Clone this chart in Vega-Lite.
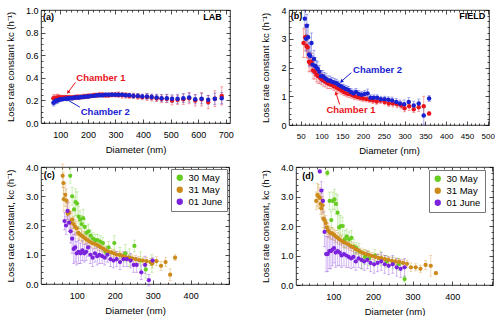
{
"$schema": "https://vega.github.io/schema/vega-lite/v6.json",
"padding": {"left": 5, "top": 5, "right": 0, "bottom": 0},
"spacing": 7,
"resolve": {"scale": {"color": "independent", "x": "independent", "y": "independent"}, "legend": {"color": "independent"}},
"config": {
 "font": "Liberation Sans",
 "view": {"stroke": "#000", "strokeWidth": 0.8},
 "axis": {"domain": false, "grid": false, "labelFont": "Liberation Sans", "titleFont": "Liberation Sans", "labelFontSize": 9, "titleFontSize": 9.5, "titleFontWeight": "normal", "labelColor": "#000", "titleColor": "#000", "tickColor": "#000", "tickWidth": 0.7, "labelOverlap": false, "labelFlush": false},
 "legend": {"orient": "top-right", "offset": 2, "strokeColor": "#777", "fillColor": "#fff", "padding": 4, "labelFont": "Liberation Sans", "labelFontSize": 9.5, "symbolType": "circle", "symbolSize": 40, "rowPadding": 1, "symbolOpacity": 1}
},
"vconcat": [
{"hconcat": [
 {
  "width": 189, "height": 113,
  "data": {"values": [
{"d":75,"k":0.22,"e":0.03,"s":"C1"},{"d":80,"k":0.215,"e":0.03,"s":"C1"},{"d":85,"k":0.22,"e":0.03,"s":"C1"},{"d":90,"k":0.225,"e":0.03,"s":"C1"},{"d":95,"k":0.225,"e":0.025,"s":"C1"},{"d":100,"k":0.225,"e":0.02,"s":"C1"},{"d":107,"k":0.225,"e":0.02,"s":"C1"},{"d":114,"k":0.225,"e":0.02,"s":"C1"},{"d":121,"k":0.225,"e":0.02,"s":"C1"},{"d":128,"k":0.225,"e":0.02,"s":"C1"},{"d":135,"k":0.225,"e":0.02,"s":"C1"},{"d":143,"k":0.225,"e":0.02,"s":"C1"},{"d":151,"k":0.225,"e":0.02,"s":"C1"},{"d":159,"k":0.23,"e":0.02,"s":"C1"},{"d":167,"k":0.23,"e":0.02,"s":"C1"},{"d":175,"k":0.23,"e":0.02,"s":"C1"},{"d":184,"k":0.235,"e":0.02,"s":"C1"},{"d":193,"k":0.235,"e":0.02,"s":"C1"},{"d":202,"k":0.24,"e":0.02,"s":"C1"},{"d":212,"k":0.24,"e":0.02,"s":"C1"},{"d":222,"k":0.245,"e":0.02,"s":"C1"},{"d":232,"k":0.245,"e":0.02,"s":"C1"},{"d":242,"k":0.25,"e":0.02,"s":"C1"},{"d":253,"k":0.25,"e":0.02,"s":"C1"},{"d":264,"k":0.245,"e":0.02,"s":"C1"},{"d":275,"k":0.245,"e":0.02,"s":"C1"},{"d":287,"k":0.25,"e":0.02,"s":"C1"},{"d":299,"k":0.25,"e":0.02,"s":"C1"},{"d":311,"k":0.25,"e":0.025,"s":"C1"},{"d":324,"k":0.245,"e":0.025,"s":"C1"},{"d":337,"k":0.245,"e":0.025,"s":"C1"},{"d":350,"k":0.24,"e":0.025,"s":"C1"},{"d":365,"k":0.24,"e":0.025,"s":"C1"},{"d":381,"k":0.235,"e":0.025,"s":"C1"},{"d":397,"k":0.23,"e":0.025,"s":"C1"},{"d":414,"k":0.23,"e":0.03,"s":"C1"},{"d":431,"k":0.225,"e":0.03,"s":"C1"},{"d":449,"k":0.22,"e":0.03,"s":"C1"},{"d":467,"k":0.215,"e":0.035,"s":"C1"},{"d":486,"k":0.215,"e":0.035,"s":"C1"},{"d":505,"k":0.2,"e":0.04,"s":"C1"},{"d":525,"k":0.205,"e":0.04,"s":"C1"},{"d":546,"k":0.21,"e":0.045,"s":"C1"},{"d":567,"k":0.22,"e":0.05,"s":"C1"},{"d":589,"k":0.2,"e":0.05,"s":"C1"},{"d":612,"k":0.21,"e":0.06,"s":"C1"},{"d":636,"k":0.185,"e":0.06,"s":"C1"},{"d":660,"k":0.215,"e":0.07,"s":"C1"},{"d":685,"k":0.24,"e":0.08,"s":"C1"},
{"d":75,"k":0.18,"e":0.03,"s":"C2"},{"d":80,"k":0.19,"e":0.03,"s":"C2"},{"d":85,"k":0.2,"e":0.03,"s":"C2"},{"d":90,"k":0.2,"e":0.025,"s":"C2"},{"d":95,"k":0.205,"e":0.02,"s":"C2"},{"d":100,"k":0.21,"e":0.02,"s":"C2"},{"d":107,"k":0.21,"e":0.015,"s":"C2"},{"d":114,"k":0.215,"e":0.015,"s":"C2"},{"d":121,"k":0.215,"e":0.015,"s":"C2"},{"d":128,"k":0.22,"e":0.015,"s":"C2"},{"d":135,"k":0.22,"e":0.015,"s":"C2"},{"d":143,"k":0.22,"e":0.015,"s":"C2"},{"d":151,"k":0.225,"e":0.015,"s":"C2"},{"d":159,"k":0.225,"e":0.015,"s":"C2"},{"d":167,"k":0.225,"e":0.015,"s":"C2"},{"d":175,"k":0.23,"e":0.015,"s":"C2"},{"d":184,"k":0.23,"e":0.015,"s":"C2"},{"d":193,"k":0.235,"e":0.015,"s":"C2"},{"d":202,"k":0.235,"e":0.015,"s":"C2"},{"d":212,"k":0.24,"e":0.015,"s":"C2"},{"d":222,"k":0.24,"e":0.015,"s":"C2"},{"d":232,"k":0.245,"e":0.015,"s":"C2"},{"d":242,"k":0.245,"e":0.015,"s":"C2"},{"d":253,"k":0.245,"e":0.015,"s":"C2"},{"d":264,"k":0.25,"e":0.015,"s":"C2"},{"d":275,"k":0.25,"e":0.015,"s":"C2"},{"d":287,"k":0.25,"e":0.015,"s":"C2"},{"d":299,"k":0.25,"e":0.015,"s":"C2"},{"d":311,"k":0.25,"e":0.015,"s":"C2"},{"d":324,"k":0.25,"e":0.015,"s":"C2"},{"d":337,"k":0.245,"e":0.015,"s":"C2"},{"d":350,"k":0.245,"e":0.015,"s":"C2"},{"d":365,"k":0.24,"e":0.02,"s":"C2"},{"d":381,"k":0.24,"e":0.02,"s":"C2"},{"d":397,"k":0.235,"e":0.02,"s":"C2"},{"d":414,"k":0.235,"e":0.025,"s":"C2"},{"d":431,"k":0.23,"e":0.025,"s":"C2"},{"d":449,"k":0.225,"e":0.03,"s":"C2"},{"d":467,"k":0.22,"e":0.03,"s":"C2"},{"d":486,"k":0.22,"e":0.035,"s":"C2"},{"d":505,"k":0.215,"e":0.035,"s":"C2"},{"d":525,"k":0.215,"e":0.04,"s":"C2"},{"d":546,"k":0.22,"e":0.04,"s":"C2"},{"d":567,"k":0.225,"e":0.04,"s":"C2"},{"d":589,"k":0.21,"e":0.04,"s":"C2"},{"d":612,"k":0.215,"e":0.045,"s":"C2"},{"d":636,"k":0.205,"e":0.04,"s":"C2"},{"d":660,"k":0.215,"e":0.05,"s":"C2"},{"d":685,"k":0.22,"e":0.05,"s":"C2"}
  ]},
  "layer": [
   {"mark": {"type": "errorbar", "ticks": true, "size": 3, "thickness": 0.8, "opacity": 0.45},
    "encoding": {
     "x": {"field": "d", "type": "quantitative", "scale": {"domain": [30, 715], "nice": false, "zero": false},
       "axis": {"orient": "top", "labelOverlap": false, "values": [40,60,80,100,120,140,160,180,200,220,240,260,280,300,320,340,360,380,400,420,440,460,480,500,520,540,560,580,600,620,640,660,680,700], "labels": false, "title": null, "tickSize": {"condition": {"test": "datum.value % 100 === 0", "value": -4}, "value": -2}}},
     "y": {"field": "k", "type": "quantitative", "scale": {"domain": [0, 1], "nice": false, "zero": false},
       "axis": {"orient": "right", "labelOverlap": false, "values": [0,0.05,0.1,0.15,0.2,0.25,0.3,0.35,0.4,0.45,0.5,0.55,0.6,0.65,0.7,0.75,0.8,0.85,0.9,0.95,1], "labels": false, "title": null, "tickSize": {"condition": {"test": "abs(datum.value*5-round(datum.value*5))<0.001", "value": -4}, "value": -2}}},
     "yError": {"field": "e"},
     "color": {"field": "s", "type": "nominal", "scale": {"domain": ["C1", "C2"], "range": ["#e8141c", "#1a22d0"]}, "legend": null}
    }},
   {"mark": {"type": "circle", "size": 20, "opacity": 1},
    "encoding": {
     "x": {"field": "d", "type": "quantitative", "scale": {"domain": [30, 715], "nice": false, "zero": false},
       "axis": {"orient": "bottom", "labelOverlap": false, "values": [40,60,80,100,120,140,160,180,200,220,240,260,280,300,320,340,360,380,400,420,440,460,480,500,520,540,560,580,600,620,640,660,680,700], "title": "Diameter (nm)", "labelExpr": "datum.value % 100 === 0 ? datum.label : ''", "tickSize": {"condition": {"test": "datum.value % 100 === 0", "value": -4}, "value": -2}, "labelPadding": 11, "titlePadding": 3}},
     "y": {"field": "k", "type": "quantitative", "scale": {"domain": [0, 1], "nice": false, "zero": false},
       "axis": {"orient": "left", "labelOverlap": false, "format": ".1f", "values": [0,0.05,0.1,0.15,0.2,0.25,0.3,0.35,0.4,0.45,0.5,0.55,0.6,0.65,0.7,0.75,0.8,0.85,0.9,0.95,1], "title": "Loss rate constant kᴄ (h⁻¹)", "labelExpr": "abs(datum.value*5-round(datum.value*5))<0.001 ? datum.label : ''", "tickSize": {"condition": {"test": "abs(datum.value*5-round(datum.value*5))<0.001", "value": -4}, "value": -2}, "labelPadding": 7, "titlePadding": 10}},
     "color": {"field": "s", "type": "nominal", "legend": null}
    }},
   {"data": {"values": [{"d":155,"k":0.36,"d2":128,"k2":0.27,"s":"C1"},{"d":171,"k":0.14,"d2":122,"k2":0.21,"s":"C2"}]},
    "mark": {"type": "rule", "strokeWidth": 1},
    "encoding": {"x": {"field": "d", "type": "quantitative", "axis": null}, "y": {"field": "k", "type": "quantitative", "axis": null}, "x2": {"field": "d2"}, "y2": {"field": "k2"}, "color": {"field": "s", "type": "nominal", "legend": null}}},
   {"data": {"values": [{"d":128,"k":0.27}]}, "mark": {"type": "point", "shape": "triangle-up", "filled": true, "size": 16, "angle": 218, "color": "#e8141c", "opacity": 1},
    "encoding": {"x": {"field": "d", "type": "quantitative", "axis": null}, "y": {"field": "k", "type": "quantitative", "axis": null}}},
   {"data": {"values": [{"d":122,"k":0.21}]}, "mark": {"type": "point", "shape": "triangle-up", "filled": true, "size": 16, "angle": 299, "color": "#1a22d0", "opacity": 1},
    "encoding": {"x": {"field": "d", "type": "quantitative", "axis": null}, "y": {"field": "k", "type": "quantitative", "axis": null}}},
   {"data": {"values": [{"d":158,"k":0.4,"t":"Chamber 1","s":"C1"},{"d":174,"k":0.1,"t":"Chamber 2","s":"C2"}]},
    "mark": {"type": "text", "align": "left", "baseline": "middle", "fontWeight": "bold", "fontSize": 9.5},
    "encoding": {"x": {"field": "d", "type": "quantitative", "axis": null}, "y": {"field": "k", "type": "quantitative", "axis": null}, "text": {"field": "t"}, "color": {"field": "s", "type": "nominal", "legend": null}}},
   {"data": {"values": [{"d":37,"k":0.935,"t":"(a)"}]},
    "mark": {"type": "text", "align": "left", "baseline": "middle", "fontWeight": "bold", "fontSize": 9, "color": "#000"},
    "encoding": {"x": {"field": "d", "type": "quantitative", "axis": null}, "y": {"field": "k", "type": "quantitative", "axis": null}, "text": {"field": "t"}}},
   {"data": {"values": [{"d":685,"k":0.935,"t":"LAB"}]},
    "mark": {"type": "text", "align": "right", "baseline": "middle", "fontWeight": "bold", "fontSize": 9, "color": "#000"},
    "encoding": {"x": {"field": "d", "type": "quantitative", "axis": null}, "y": {"field": "k", "type": "quantitative", "axis": null}, "text": {"field": "t"}}}
  ],
  "resolve": {"axis": {"x": "independent", "y": "independent"}}
 },
 {
  "width": 200, "height": 115,
  "data": {"values": [
{"d":57,"k":2.85,"e":0.5,"s":"C1"},{"d":61,"k":3.05,"e":0.45,"s":"C1"},{"d":64,"k":2.75,"e":0.4,"s":"C1"},{"d":67,"k":2.7,"e":0.4,"s":"C1"},{"d":70,"k":2.2,"e":0.35,"s":"C1"},{"d":73,"k":2.15,"e":0.3,"s":"C1"},{"d":76,"k":2.2,"e":0.3,"s":"C1"},{"d":80,"k":1.9,"e":0.3,"s":"C1"},{"d":84,"k":1.85,"e":0.25,"s":"C1"},{"d":88,"k":1.75,"e":0.25,"s":"C1"},{"d":92,"k":1.7,"e":0.25,"s":"C1"},{"d":96,"k":1.65,"e":0.2,"s":"C1"},{"d":100,"k":1.6,"e":0.2,"s":"C1"},{"d":105,"k":1.55,"e":0.2,"s":"C1"},{"d":110,"k":1.5,"e":0.18,"s":"C1"},{"d":115,"k":1.45,"e":0.18,"s":"C1"},{"d":120,"k":1.42,"e":0.15,"s":"C1"},{"d":125,"k":1.4,"e":0.15,"s":"C1"},{"d":130,"k":1.35,"e":0.15,"s":"C1"},{"d":136,"k":1.3,"e":0.14,"s":"C1"},{"d":142,"k":1.25,"e":0.14,"s":"C1"},{"d":148,"k":1.2,"e":0.13,"s":"C1"},{"d":154,"k":1.15,"e":0.13,"s":"C1"},{"d":160,"k":1.1,"e":0.12,"s":"C1"},{"d":166,"k":1.08,"e":0.12,"s":"C1"},{"d":172,"k":1.05,"e":0.12,"s":"C1"},{"d":179,"k":1.0,"e":0.12,"s":"C1"},{"d":186,"k":0.97,"e":0.1,"s":"C1"},{"d":193,"k":0.95,"e":0.1,"s":"C1"},{"d":200,"k":0.92,"e":0.1,"s":"C1"},{"d":208,"k":0.9,"e":0.1,"s":"C1"},{"d":216,"k":0.88,"e":0.1,"s":"C1"},{"d":224,"k":0.85,"e":0.1,"s":"C1"},{"d":233,"k":0.82,"e":0.1,"s":"C1"},{"d":242,"k":0.85,"e":0.1,"s":"C1"},{"d":252,"k":0.8,"e":0.1,"s":"C1"},{"d":262,"k":0.75,"e":0.1,"s":"C1"},{"d":272,"k":0.75,"e":0.12,"s":"C1"},{"d":282,"k":0.72,"e":0.12,"s":"C1"},{"d":292,"k":0.68,"e":0.12,"s":"C1"},{"d":300,"k":0.58,"e":0.12,"s":"C1"},{"d":311,"k":0.65,"e":0.15,"s":"C1"},{"d":322,"k":0.55,"e":0.12,"s":"C1"},{"d":334,"k":0.62,"e":0.15,"s":"C1"},{"d":346,"k":0.65,"e":0.35,"s":"C1"},{"d":359,"k":0.4,"e":0.05,"s":"C1"},
{"d":60,"k":3.7,"e":0.3,"s":"C2"},{"d":63,"k":3.0,"e":0.45,"s":"C2"},{"d":65,"k":3.45,"e":0.4,"s":"C2"},{"d":68,"k":3.05,"e":0.45,"s":"C2"},{"d":70,"k":2.45,"e":0.4,"s":"C2"},{"d":73,"k":2.4,"e":0.35,"s":"C2"},{"d":76,"k":2.85,"e":0.35,"s":"C2"},{"d":79,"k":2.1,"e":0.3,"s":"C2"},{"d":82,"k":2.3,"e":0.3,"s":"C2"},{"d":85,"k":2.05,"e":0.3,"s":"C2"},{"d":88,"k":2.0,"e":0.25,"s":"C2"},{"d":91,"k":1.95,"e":0.25,"s":"C2"},{"d":95,"k":1.85,"e":0.22,"s":"C2"},{"d":99,"k":1.7,"e":0.2,"s":"C2"},{"d":103,"k":1.7,"e":0.2,"s":"C2"},{"d":107,"k":1.65,"e":0.18,"s":"C2"},{"d":111,"k":1.6,"e":0.18,"s":"C2"},{"d":116,"k":1.55,"e":0.16,"s":"C2"},{"d":121,"k":1.55,"e":0.15,"s":"C2"},{"d":126,"k":1.5,"e":0.15,"s":"C2"},{"d":131,"k":1.48,"e":0.14,"s":"C2"},{"d":136,"k":1.45,"e":0.14,"s":"C2"},{"d":141,"k":1.4,"e":0.13,"s":"C2"},{"d":147,"k":1.35,"e":0.13,"s":"C2"},{"d":153,"k":1.3,"e":0.12,"s":"C2"},{"d":159,"k":1.25,"e":0.12,"s":"C2"},{"d":165,"k":1.22,"e":0.12,"s":"C2"},{"d":171,"k":1.15,"e":0.12,"s":"C2"},{"d":177,"k":1.1,"e":0.12,"s":"C2"},{"d":183,"k":1.15,"e":0.12,"s":"C2"},{"d":190,"k":1.08,"e":0.12,"s":"C2"},{"d":197,"k":1.05,"e":0.12,"s":"C2"},{"d":204,"k":1.08,"e":0.12,"s":"C2"},{"d":211,"k":1.1,"e":0.15,"s":"C2"},{"d":218,"k":0.95,"e":0.1,"s":"C2"},{"d":226,"k":0.95,"e":0.1,"s":"C2"},{"d":234,"k":0.95,"e":0.1,"s":"C2"},{"d":243,"k":0.9,"e":0.1,"s":"C2"},{"d":252,"k":0.9,"e":0.1,"s":"C2"},{"d":261,"k":0.88,"e":0.1,"s":"C2"},{"d":270,"k":0.85,"e":0.12,"s":"C2"},{"d":280,"k":0.8,"e":0.12,"s":"C2"},{"d":289,"k":0.75,"e":0.12,"s":"C2"},{"d":299,"k":0.72,"e":0.15,"s":"C2"},{"d":310,"k":0.8,"e":0.15,"s":"C2"},{"d":322,"k":0.68,"e":0.15,"s":"C2"},{"d":334,"k":0.75,"e":0.15,"s":"C2"},{"d":346,"k":0.33,"e":0.3,"s":"C2"},{"d":359,"k":0.92,"e":0.1,"s":"C2"}
  ]},
  "layer": [
   {"mark": {"type": "errorbar", "ticks": true, "size": 3, "thickness": 0.8, "opacity": 0.45},
    "encoding": {
     "x": {"field": "d", "type": "quantitative", "scale": {"domain": [22, 503], "nice": false, "zero": false},
       "axis": {"orient": "top", "labelOverlap": false, "values": [30,40,50,60,70,80,90,100,110,120,130,140,150,160,170,180,190,200,210,220,230,240,250,260,270,280,290,300,310,320,330,340,350,360,370,380,390,400,410,420,430,440,450,460,470,480,490,500], "labels": false, "title": null, "tickSize": {"condition": {"test": "datum.value % 50 === 0", "value": -4}, "value": -2}}},
     "y": {"field": "k", "type": "quantitative", "scale": {"domain": [0, 4], "nice": false, "zero": false},
       "axis": {"orient": "right", "labelOverlap": false, "values": [0,0.2,0.4,0.6,0.8,1,1.2,1.4,1.6,1.8,2,2.2,2.4,2.6,2.8,3,3.2,3.4,3.6,3.8,4], "labels": false, "title": null, "tickSize": {"condition": {"test": "abs(datum.value-round(datum.value))<0.001", "value": -4}, "value": -2}}},
     "yError": {"field": "e"},
     "color": {"field": "s", "type": "nominal", "scale": {"domain": ["C1", "C2"], "range": ["#e8141c", "#1a22d0"]}, "legend": null}
    }},
   {"mark": {"type": "circle", "size": 20, "opacity": 1},
    "encoding": {
     "x": {"field": "d", "type": "quantitative", "scale": {"domain": [22, 503], "nice": false, "zero": false},
       "axis": {"orient": "bottom", "labelOverlap": false, "values": [30,40,50,60,70,80,90,100,110,120,130,140,150,160,170,180,190,200,210,220,230,240,250,260,270,280,290,300,310,320,330,340,350,360,370,380,390,400,410,420,430,440,450,460,470,480,490,500], "title": "Diameter (nm)", "labelExpr": "datum.value % 50 === 0 ? datum.label : ''", "tickSize": {"condition": {"test": "datum.value % 50 === 0", "value": -4}, "value": -2}, "labelPadding": 11, "titlePadding": 3, "labelFontSize": 8}},
     "y": {"field": "k", "type": "quantitative", "scale": {"domain": [0, 4], "nice": false, "zero": false},
       "axis": {"orient": "left", "labelOverlap": false, "format": ".0f", "values": [0,0.2,0.4,0.6,0.8,1,1.2,1.4,1.6,1.8,2,2.2,2.4,2.6,2.8,3,3.2,3.4,3.6,3.8,4], "title": "Loss rate constant kᴄ (h⁻¹)", "labelExpr": "abs(datum.value-round(datum.value))<0.001 ? datum.label : ''", "tickSize": {"condition": {"test": "abs(datum.value-round(datum.value))<0.001", "value": -4}, "value": -2}, "labelPadding": 7, "titlePadding": 10}},
     "color": {"field": "s", "type": "nominal", "legend": null}
    }},
   {"data": {"values": [{"d":172,"k":1.82,"d2":148,"k2":1.52,"s":"C2"},{"d":144,"k":0.71,"d2":135,"k2":1.11,"s":"C1"}]},
    "mark": {"type": "rule", "strokeWidth": 1},
    "encoding": {"x": {"field": "d", "type": "quantitative", "axis": null}, "y": {"field": "k", "type": "quantitative", "axis": null}, "x2": {"field": "d2"}, "y2": {"field": "k2"}, "color": {"field": "s", "type": "nominal", "legend": null}}},
   {"data": {"values": [{"d":135,"k":1.11}]}, "mark": {"type": "point", "shape": "triangle-up", "filled": true, "size": 16, "angle": 341, "color": "#e8141c", "opacity": 1},
    "encoding": {"x": {"field": "d", "type": "quantitative", "axis": null}, "y": {"field": "k", "type": "quantitative", "axis": null}}},
   {"data": {"values": [{"d":148,"k":1.52}]}, "mark": {"type": "point", "shape": "triangle-up", "filled": true, "size": 16, "angle": 229, "color": "#1a22d0", "opacity": 1},
    "encoding": {"x": {"field": "d", "type": "quantitative", "axis": null}, "y": {"field": "k", "type": "quantitative", "axis": null}}},
   {"data": {"values": [{"d":112,"k":0.52,"t":"Chamber 1","s":"C1"},{"d":176,"k":1.93,"t":"Chamber 2","s":"C2"}]},
    "mark": {"type": "text", "align": "left", "baseline": "middle", "fontWeight": "bold", "fontSize": 9.5},
    "encoding": {"x": {"field": "d", "type": "quantitative", "axis": null}, "y": {"field": "k", "type": "quantitative", "axis": null}, "text": {"field": "t"}, "color": {"field": "s", "type": "nominal", "legend": null}}},
   {"data": {"values": [{"d":26,"k":3.78,"t":"(b)"}]},
    "mark": {"type": "text", "align": "left", "baseline": "middle", "fontWeight": "bold", "fontSize": 9, "color": "#000"},
    "encoding": {"x": {"field": "d", "type": "quantitative", "axis": null}, "y": {"field": "k", "type": "quantitative", "axis": null}, "text": {"field": "t"}}},
   {"data": {"values": [{"d":494,"k":3.78,"t":"FIELD"}]},
    "mark": {"type": "text", "align": "right", "baseline": "middle", "fontWeight": "bold", "fontSize": 9, "color": "#000"},
    "encoding": {"x": {"field": "d", "type": "quantitative", "axis": null}, "y": {"field": "k", "type": "quantitative", "axis": null}, "text": {"field": "t"}}}
  ],
  "resolve": {"axis": {"x": "independent", "y": "independent"}}
 }
], "spacing": 26, "resolve": {"scale": {"color": "independent", "x": "independent", "y": "independent"}, "legend": {"color": "independent"}}},
{"hconcat": [
 {
  "width": 188, "height": 117,
  "data": {"values": [
{"d":83,"k":3.7,"e":0.25,"s":"30 May"},{"d":88,"k":3.0,"e":0.3,"s":"30 May"},{"d":93,"k":2.55,"e":0.4,"s":"30 May"},{"d":97,"k":2.8,"e":0.45,"s":"30 May"},{"d":101,"k":2.75,"e":0.4,"s":"30 May"},{"d":105,"k":2.3,"e":0.35,"s":"30 May"},{"d":109,"k":2.2,"e":0.3,"s":"30 May"},{"d":113,"k":2.05,"e":0.3,"s":"30 May"},{"d":117,"k":2.25,"e":0.3,"s":"30 May"},{"d":121,"k":1.95,"e":0.25,"s":"30 May"},{"d":126,"k":1.75,"e":0.25,"s":"30 May"},{"d":131,"k":1.8,"e":0.25,"s":"30 May"},{"d":137,"k":1.65,"e":0.2,"s":"30 May"},{"d":143,"k":1.55,"e":0.2,"s":"30 May"},{"d":149,"k":1.5,"e":0.2,"s":"30 May"},{"d":155,"k":1.5,"e":0.2,"s":"30 May"},{"d":162,"k":1.45,"e":0.2,"s":"30 May"},{"d":169,"k":1.4,"e":0.2,"s":"30 May"},{"d":176,"k":1.1,"e":0.2,"s":"30 May"},{"d":184,"k":1.25,"e":0.2,"s":"30 May"},{"d":199,"k":1.4,"e":0.25,"s":"30 May"},{"d":214,"k":1.0,"e":0.25,"s":"30 May"},{"d":228,"k":1.05,"e":0.3,"s":"30 May"},{"d":239,"k":0.9,"e":0.3,"s":"30 May"},{"d":252,"k":1.3,"e":0.2,"s":"30 May"},{"d":268,"k":0.8,"e":0.3,"s":"30 May"},{"d":282,"k":0.5,"e":0.3,"s":"30 May"},{"d":298,"k":0.7,"e":0.3,"s":"30 May"},
{"d":63,"k":3.7,"e":0.4,"s":"31 May"},{"d":65,"k":3.45,"e":0.35,"s":"31 May"},{"d":66,"k":2.9,"e":0.4,"s":"31 May"},{"d":70,"k":3.05,"e":0.4,"s":"31 May"},{"d":73,"k":2.85,"e":0.4,"s":"31 May"},{"d":76,"k":2.4,"e":0.35,"s":"31 May"},{"d":80,"k":2.45,"e":0.35,"s":"31 May"},{"d":84,"k":2.1,"e":0.3,"s":"31 May"},{"d":88,"k":2.2,"e":0.3,"s":"31 May"},{"d":92,"k":2.05,"e":0.25,"s":"31 May"},{"d":96,"k":1.95,"e":0.25,"s":"31 May"},{"d":100,"k":1.9,"e":0.25,"s":"31 May"},{"d":104,"k":1.75,"e":0.2,"s":"31 May"},{"d":108,"k":1.7,"e":0.2,"s":"31 May"},{"d":113,"k":1.65,"e":0.2,"s":"31 May"},{"d":118,"k":1.6,"e":0.2,"s":"31 May"},{"d":123,"k":1.55,"e":0.18,"s":"31 May"},{"d":128,"k":1.5,"e":0.18,"s":"31 May"},{"d":134,"k":1.45,"e":0.17,"s":"31 May"},{"d":140,"k":1.4,"e":0.16,"s":"31 May"},{"d":146,"k":1.38,"e":0.16,"s":"31 May"},{"d":152,"k":1.35,"e":0.15,"s":"31 May"},{"d":158,"k":1.3,"e":0.15,"s":"31 May"},{"d":164,"k":1.25,"e":0.14,"s":"31 May"},{"d":170,"k":1.2,"e":0.14,"s":"31 May"},{"d":177,"k":1.15,"e":0.14,"s":"31 May"},{"d":184,"k":1.1,"e":0.13,"s":"31 May"},{"d":191,"k":1.08,"e":0.13,"s":"31 May"},{"d":198,"k":1.05,"e":0.13,"s":"31 May"},{"d":205,"k":1.0,"e":0.12,"s":"31 May"},{"d":213,"k":1.0,"e":0.12,"s":"31 May"},{"d":221,"k":0.95,"e":0.12,"s":"31 May"},{"d":229,"k":0.92,"e":0.12,"s":"31 May"},{"d":237,"k":0.9,"e":0.12,"s":"31 May"},{"d":246,"k":0.88,"e":0.12,"s":"31 May"},{"d":255,"k":0.85,"e":0.12,"s":"31 May"},{"d":264,"k":0.82,"e":0.12,"s":"31 May"},{"d":274,"k":0.8,"e":0.12,"s":"31 May"},{"d":284,"k":0.78,"e":0.12,"s":"31 May"},{"d":294,"k":0.75,"e":0.12,"s":"31 May"},{"d":299,"k":0.7,"e":0.15,"s":"31 May"},{"d":310,"k":0.78,"e":0.15,"s":"31 May"},{"d":322,"k":0.62,"e":0.15,"s":"31 May"},{"d":334,"k":0.75,"e":0.15,"s":"31 May"},{"d":346,"k":0.32,"e":0.2,"s":"31 May"},{"d":359,"k":0.9,"e":0.1,"s":"31 May"},
{"d":68,"k":2.15,"e":0.3,"s":"01 June"},{"d":72,"k":2.0,"e":0.3,"s":"01 June"},{"d":76,"k":2.5,"e":0.3,"s":"01 June"},{"d":80,"k":2.1,"e":0.3,"s":"01 June"},{"d":84,"k":1.8,"e":0.4,"s":"01 June"},{"d":88,"k":1.55,"e":0.5,"s":"01 June"},{"d":92,"k":1.2,"e":0.5,"s":"01 June"},{"d":96,"k":1.25,"e":0.5,"s":"01 June"},{"d":100,"k":1.05,"e":0.4,"s":"01 June"},{"d":105,"k":1.1,"e":0.4,"s":"01 June"},{"d":110,"k":1.05,"e":0.35,"s":"01 June"},{"d":115,"k":1.15,"e":0.35,"s":"01 June"},{"d":120,"k":1.05,"e":0.3,"s":"01 June"},{"d":125,"k":1.1,"e":0.3,"s":"01 June"},{"d":130,"k":1.25,"e":0.3,"s":"01 June"},{"d":136,"k":1.0,"e":0.3,"s":"01 June"},{"d":142,"k":0.9,"e":0.3,"s":"01 June"},{"d":148,"k":1.05,"e":0.3,"s":"01 June"},{"d":154,"k":0.95,"e":0.3,"s":"01 June"},{"d":160,"k":1.0,"e":0.3,"s":"01 June"},{"d":167,"k":0.95,"e":0.25,"s":"01 June"},{"d":174,"k":0.9,"e":0.25,"s":"01 June"},{"d":181,"k":1.0,"e":0.25,"s":"01 June"},{"d":189,"k":0.85,"e":0.25,"s":"01 June"},{"d":197,"k":0.8,"e":0.25,"s":"01 June"},{"d":205,"k":0.85,"e":0.25,"s":"01 June"},{"d":214,"k":0.75,"e":0.25,"s":"01 June"},{"d":223,"k":0.85,"e":0.25,"s":"01 June"},{"d":232,"k":0.85,"e":0.25,"s":"01 June"},{"d":242,"k":0.8,"e":0.25,"s":"01 June"},{"d":250,"k":0.65,"e":0.25,"s":"01 June"},{"d":258,"k":0.65,"e":0.25,"s":"01 June"},{"d":270,"k":0.4,"e":0.25,"s":"01 June"},{"d":280,"k":0.65,"e":0.3,"s":"01 June"},{"d":290,"k":0.13,"e":0.2,"s":"01 June"},{"d":300,"k":0.8,"e":0.1,"s":"01 June"}
  ]},
  "layer": [
   {"mark": {"type": "errorbar", "ticks": true, "size": 3, "thickness": 0.8, "opacity": 0.4},
    "encoding": {
     "x": {"field": "d", "type": "quantitative", "scale": {"domain": [6, 501], "nice": false, "zero": false},
       "axis": {"orient": "top", "labelOverlap": false, "values": [20,40,60,80,100,120,140,160,180,200,220,240,260,280,300,320,340,360,380,400,420,440,460,480,500], "labels": false, "title": null, "tickSize": {"condition": {"test": "datum.value % 100 === 0", "value": -4}, "value": -2}}},
     "y": {"field": "k", "type": "quantitative", "scale": {"domain": [0, 4], "nice": false, "zero": false},
       "axis": {"orient": "right", "labelOverlap": false, "values": [0,0.2,0.4,0.6,0.8,1,1.2,1.4,1.6,1.8,2,2.2,2.4,2.6,2.8,3,3.2,3.4,3.6,3.8,4], "labels": false, "title": null, "tickSize": {"condition": {"test": "abs(datum.value-round(datum.value))<0.001", "value": -4}, "value": -2}}},
     "yError": {"field": "e"},
     "color": {"field": "s", "type": "nominal", "scale": {"domain": ["30 May", "31 May", "01 June"], "range": ["#66cc22", "#cc8a1a", "#7b22dd"]}, "legend": null}
    }},
   {"mark": {"type": "circle", "size": 18, "opacity": 1},
    "encoding": {
     "x": {"field": "d", "type": "quantitative", "scale": {"domain": [6, 501], "nice": false, "zero": false},
       "axis": {"orient": "bottom", "labelOverlap": false, "values": [20,40,60,80,100,120,140,160,180,200,220,240,260,280,300,320,340,360,380,400,420,440,460,480,500], "title": "Diameter (nm)", "labelExpr": "datum.value % 100 === 0 && datum.value < 500 ? datum.label : ''", "tickSize": {"condition": {"test": "datum.value % 100 === 0", "value": -4}, "value": -2}, "labelPadding": 11, "titlePadding": 3}},
     "y": {"field": "k", "type": "quantitative", "scale": {"domain": [0, 4], "nice": false, "zero": false},
       "axis": {"orient": "left", "labelOverlap": false, "format": ".1f", "values": [0,0.2,0.4,0.6,0.8,1,1.2,1.4,1.6,1.8,2,2.2,2.4,2.6,2.8,3,3.2,3.4,3.6,3.8,4], "title": "Loss rate constant, kᴄ (h⁻¹)", "labelExpr": "abs(datum.value-round(datum.value))<0.001 ? datum.label : ''", "tickSize": {"condition": {"test": "abs(datum.value-round(datum.value))<0.001", "value": -4}, "value": -2}, "labelPadding": 7, "titlePadding": 10}},
     "color": {"field": "s", "type": "nominal", "legend": {"title": null, "offset": 2}}
    }},
   {"data": {"values": [{"d":13,"k":3.71,"t":"(c)"}]},
    "mark": {"type": "text", "align": "left", "baseline": "middle", "fontWeight": "bold", "fontSize": 9, "color": "#000"},
    "encoding": {"x": {"field": "d", "type": "quantitative", "axis": null}, "y": {"field": "k", "type": "quantitative", "axis": null}, "text": {"field": "t"}}}
  ],
  "resolve": {"axis": {"x": "independent", "y": "independent"}, "legend": {"color": "independent"}}
 },
 {
  "width": 197, "height": 118,
  "data": {"values": [
{"d":85,"k":3.8,"e":0.1,"s":"30 May"},{"d":91,"k":2.85,"e":0.3,"s":"30 May"},{"d":95,"k":2.2,"e":0.3,"s":"30 May"},{"d":99,"k":2.85,"e":0.3,"s":"30 May"},{"d":103,"k":2.9,"e":0.35,"s":"30 May"},{"d":107,"k":2.75,"e":0.35,"s":"30 May"},{"d":111,"k":2.45,"e":0.6,"s":"30 May"},{"d":115,"k":1.95,"e":0.4,"s":"30 May"},{"d":119,"k":2.0,"e":0.35,"s":"30 May"},{"d":124,"k":2.0,"e":0.3,"s":"30 May"},{"d":129,"k":1.55,"e":0.3,"s":"30 May"},{"d":134,"k":1.65,"e":0.25,"s":"30 May"},{"d":140,"k":1.55,"e":0.25,"s":"30 May"},{"d":146,"k":1.6,"e":0.25,"s":"30 May"},{"d":152,"k":1.3,"e":0.25,"s":"30 May"},{"d":158,"k":1.25,"e":0.2,"s":"30 May"},{"d":165,"k":1.15,"e":0.25,"s":"30 May"},{"d":172,"k":0.85,"e":0.3,"s":"30 May"},{"d":180,"k":0.95,"e":0.25,"s":"30 May"},{"d":190,"k":0.9,"e":0.25,"s":"30 May"},{"d":205,"k":1.0,"e":0.2,"s":"30 May"},{"d":220,"k":0.9,"e":0.25,"s":"30 May"},{"d":235,"k":0.8,"e":0.2,"s":"30 May"},{"d":250,"k":0.75,"e":0.2,"s":"30 May"},{"d":265,"k":0.7,"e":0.2,"s":"30 May"},{"d":280,"k":0.2,"e":0.1,"s":"30 May"},
{"d":57,"k":2.85,"e":0.3,"s":"31 May"},{"d":60,"k":3.05,"e":0.4,"s":"31 May"},{"d":63,"k":3.0,"e":0.4,"s":"31 May"},{"d":66,"k":2.95,"e":0.35,"s":"31 May"},{"d":68,"k":2.75,"e":0.35,"s":"31 May"},{"d":70,"k":2.6,"e":0.3,"s":"31 May"},{"d":73,"k":2.7,"e":0.3,"s":"31 May"},{"d":75,"k":2.25,"e":0.3,"s":"31 May"},{"d":78,"k":2.2,"e":0.3,"s":"31 May"},{"d":81,"k":2.1,"e":0.25,"s":"31 May"},{"d":84,"k":1.95,"e":0.25,"s":"31 May"},{"d":87,"k":1.85,"e":0.25,"s":"31 May"},{"d":90,"k":1.8,"e":0.2,"s":"31 May"},{"d":94,"k":1.75,"e":0.2,"s":"31 May"},{"d":98,"k":1.75,"e":0.2,"s":"31 May"},{"d":102,"k":1.7,"e":0.2,"s":"31 May"},{"d":106,"k":1.65,"e":0.2,"s":"31 May"},{"d":111,"k":1.6,"e":0.18,"s":"31 May"},{"d":116,"k":1.55,"e":0.18,"s":"31 May"},{"d":121,"k":1.5,"e":0.17,"s":"31 May"},{"d":126,"k":1.45,"e":0.17,"s":"31 May"},{"d":132,"k":1.42,"e":0.16,"s":"31 May"},{"d":138,"k":1.38,"e":0.16,"s":"31 May"},{"d":144,"k":1.32,"e":0.15,"s":"31 May"},{"d":150,"k":1.28,"e":0.15,"s":"31 May"},{"d":156,"k":1.22,"e":0.14,"s":"31 May"},{"d":162,"k":1.18,"e":0.14,"s":"31 May"},{"d":169,"k":1.12,"e":0.13,"s":"31 May"},{"d":176,"k":1.08,"e":0.13,"s":"31 May"},{"d":183,"k":1.05,"e":0.13,"s":"31 May"},{"d":190,"k":1.02,"e":0.12,"s":"31 May"},{"d":198,"k":0.98,"e":0.12,"s":"31 May"},{"d":206,"k":0.95,"e":0.12,"s":"31 May"},{"d":214,"k":0.92,"e":0.12,"s":"31 May"},{"d":222,"k":0.9,"e":0.12,"s":"31 May"},{"d":230,"k":0.88,"e":0.12,"s":"31 May"},{"d":239,"k":0.85,"e":0.12,"s":"31 May"},{"d":248,"k":0.82,"e":0.12,"s":"31 May"},{"d":257,"k":0.8,"e":0.12,"s":"31 May"},{"d":266,"k":0.78,"e":0.12,"s":"31 May"},{"d":276,"k":0.75,"e":0.12,"s":"31 May"},{"d":286,"k":0.72,"e":0.12,"s":"31 May"},{"d":296,"k":0.6,"e":0.15,"s":"31 May"},{"d":308,"k":0.6,"e":0.12,"s":"31 May"},{"d":320,"k":0.55,"e":0.12,"s":"31 May"},{"d":333,"k":0.68,"e":0.15,"s":"31 May"},{"d":346,"k":0.65,"e":0.35,"s":"31 May"},{"d":359,"k":0.4,"e":0.05,"s":"31 May"},
{"d":66,"k":3.85,"e":0.05,"s":"01 June"},{"d":70,"k":3.2,"e":0.3,"s":"01 June"},{"d":74,"k":2.85,"e":0.4,"s":"01 June"},{"d":78,"k":1.8,"e":0.5,"s":"01 June"},{"d":82,"k":1.05,"e":0.6,"s":"01 June"},{"d":86,"k":1.05,"e":0.6,"s":"01 June"},{"d":90,"k":1.15,"e":0.6,"s":"01 June"},{"d":94,"k":1.15,"e":0.6,"s":"01 June"},{"d":98,"k":1.2,"e":0.55,"s":"01 June"},{"d":102,"k":1.25,"e":0.5,"s":"01 June"},{"d":106,"k":1.1,"e":0.5,"s":"01 June"},{"d":111,"k":1.15,"e":0.5,"s":"01 June"},{"d":116,"k":1.1,"e":0.45,"s":"01 June"},{"d":121,"k":1.0,"e":0.4,"s":"01 June"},{"d":127,"k":1.05,"e":0.4,"s":"01 June"},{"d":133,"k":1.0,"e":0.4,"s":"01 June"},{"d":139,"k":0.95,"e":0.35,"s":"01 June"},{"d":145,"k":0.9,"e":0.35,"s":"01 June"},{"d":151,"k":0.95,"e":0.35,"s":"01 June"},{"d":157,"k":0.8,"e":0.3,"s":"01 June"},{"d":164,"k":0.9,"e":0.3,"s":"01 June"},{"d":171,"k":0.85,"e":0.3,"s":"01 June"},{"d":178,"k":0.8,"e":0.3,"s":"01 June"},{"d":186,"k":0.85,"e":0.3,"s":"01 June"},{"d":194,"k":0.75,"e":0.3,"s":"01 June"},{"d":203,"k":0.7,"e":0.3,"s":"01 June"},{"d":212,"k":0.75,"e":0.3,"s":"01 June"},{"d":221,"k":0.8,"e":0.3,"s":"01 June"},{"d":230,"k":0.7,"e":0.3,"s":"01 June"},{"d":240,"k":0.65,"e":0.3,"s":"01 June"},{"d":250,"k":0.7,"e":0.3,"s":"01 June"},{"d":260,"k":0.6,"e":0.3,"s":"01 June"},{"d":270,"k":0.55,"e":0.3,"s":"01 June"},{"d":280,"k":0.6,"e":0.3,"s":"01 June"}
  ]},
  "layer": [
   {"mark": {"type": "errorbar", "ticks": true, "size": 3, "thickness": 0.8, "opacity": 0.4},
    "encoding": {
     "x": {"field": "d", "type": "quantitative", "scale": {"domain": [6, 503], "nice": false, "zero": false},
       "axis": {"orient": "top", "labelOverlap": false, "values": [20,40,60,80,100,120,140,160,180,200,220,240,260,280,300,320,340,360,380,400,420,440,460,480,500], "labels": false, "title": null, "tickSize": {"condition": {"test": "datum.value % 100 === 0", "value": -4}, "value": -2}}},
     "y": {"field": "k", "type": "quantitative", "scale": {"domain": [0, 4], "nice": false, "zero": false},
       "axis": {"orient": "right", "labelOverlap": false, "values": [0,0.2,0.4,0.6,0.8,1,1.2,1.4,1.6,1.8,2,2.2,2.4,2.6,2.8,3,3.2,3.4,3.6,3.8,4], "labels": false, "title": null, "tickSize": {"condition": {"test": "abs(datum.value-round(datum.value))<0.001", "value": -4}, "value": -2}}},
     "yError": {"field": "e"},
     "color": {"field": "s", "type": "nominal", "scale": {"domain": ["30 May", "31 May", "01 June"], "range": ["#66cc22", "#cc8a1a", "#7b22dd"]}, "legend": null}
    }},
   {"mark": {"type": "circle", "size": 18, "opacity": 1},
    "encoding": {
     "x": {"field": "d", "type": "quantitative", "scale": {"domain": [6, 503], "nice": false, "zero": false},
       "axis": {"orient": "bottom", "labelOverlap": false, "values": [20,40,60,80,100,120,140,160,180,200,220,240,260,280,300,320,340,360,380,400,420,440,460,480,500], "title": "Diameter (nm)", "labelExpr": "datum.value % 100 === 0 && datum.value < 500 ? datum.label : ''", "tickSize": {"condition": {"test": "datum.value % 100 === 0", "value": -4}, "value": -2}, "labelPadding": 11, "titlePadding": 3}},
     "y": {"field": "k", "type": "quantitative", "scale": {"domain": [0, 4], "nice": false, "zero": false},
       "axis": {"orient": "left", "labelOverlap": false, "format": ".1f", "values": [0,0.2,0.4,0.6,0.8,1,1.2,1.4,1.6,1.8,2,2.2,2.4,2.6,2.8,3,3.2,3.4,3.6,3.8,4], "title": "Loss rate constant, kᴄ (h⁻¹)", "labelExpr": "abs(datum.value-round(datum.value))<0.001 ? datum.label : ''", "tickSize": {"condition": {"test": "abs(datum.value-round(datum.value))<0.001", "value": -4}, "value": -2}, "labelPadding": 7, "titlePadding": 10}},
     "color": {"field": "s", "type": "nominal", "legend": {"title": null, "orient": "none", "legendX": 133, "legendY": 3}}
    }},
   {"data": {"values": [{"d":22,"k":3.71,"t":"(d)"}]},
    "mark": {"type": "text", "align": "left", "baseline": "middle", "fontWeight": "bold", "fontSize": 9, "color": "#000"},
    "encoding": {"x": {"field": "d", "type": "quantitative", "axis": null}, "y": {"field": "k", "type": "quantitative", "axis": null}, "text": {"field": "t"}}}
  ],
  "resolve": {"axis": {"x": "independent", "y": "independent"}, "legend": {"color": "independent"}}
 }
], "spacing": 30, "resolve": {"scale": {"color": "independent", "x": "independent", "y": "independent"}, "legend": {"color": "independent"}}}
]
}
